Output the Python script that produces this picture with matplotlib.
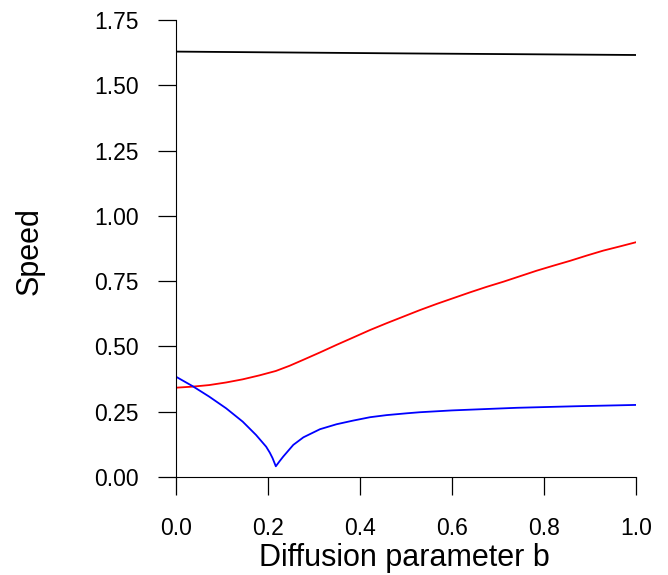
import matplotlib
matplotlib.use('Agg')
import numpy as np
from matplotlib import pyplot as plt

plt.rcParams['font.family'] = ['Liberation Sans', 'DejaVu Sans']

# values
b_black = [0.0, 0.5, 1.0]
speed_black = [1.629, 1.622, 1.616]

b_red = [0.0, 0.036, 0.072, 0.109, 0.145, 0.181, 0.217, 0.247, 0.277, 0.313,
         0.349, 0.385, 0.422, 0.458, 0.494, 0.530, 0.567, 0.603, 0.639,
         0.675, 0.712, 0.748, 0.784, 0.820, 0.857, 0.893, 0.929, 0.965, 1.0]
speed_red = [0.342, 0.346, 0.352, 0.362, 0.374, 0.389, 0.406, 0.426, 0.449,
             0.477, 0.506, 0.534, 0.563, 0.589, 0.614, 0.639, 0.663, 0.685,
             0.707, 0.728, 0.748, 0.769, 0.790, 0.809, 0.828, 0.848, 0.867,
             0.883, 0.899]

b_blue = [0.0, 0.036, 0.072, 0.109, 0.145, 0.174, 0.196, 0.204, 0.210,
          0.217, 0.225, 0.233, 0.255, 0.277, 0.313, 0.349, 0.385, 0.422,
          0.458, 0.502, 0.530, 0.600, 0.670, 0.741, 0.870, 1.0]
speed_blue = [0.384, 0.348, 0.308, 0.263, 0.212, 0.161, 0.116, 0.093, 0.072,
              0.041, 0.060, 0.078, 0.123, 0.152, 0.183, 0.202, 0.216, 0.229,
              0.237, 0.244, 0.248, 0.255, 0.260, 0.265, 0.271, 0.276]

xticks = [0.0, 0.2, 0.4, 0.6, 0.8, 1.0]
yticks = [0.0, 0.25, 0.5, 0.75, 1.0, 1.25, 1.5, 1.75]

fig = plt.figure(figsize=(6.68, 5.75), dpi=100)
ax = fig.add_axes([176 / 668, 98 / 575, 460 / 668, 457 / 575])

for xs, ys, c in [(b_black, speed_black, 'black'),
                  (b_red, speed_red, 'red'),
                  (b_blue, speed_blue, 'blue')]:
    ax.plot(xs, ys, color=c, lw=1.3, solid_joinstyle='round')

ax.set_xlim(0, 1)
ax.set_ylim(0, 1.75)
ax.set_xticks(xticks)
ax.set_xticklabels(['%.1f' % v for v in xticks])
ax.set_yticks(yticks)
ax.set_yticklabels(['%.2f' % v for v in yticks])

ax.spines['top'].set_visible(False)
ax.spines['right'].set_visible(False)
ax.tick_params(direction='out', length=13, width=0.9, labelsize=16.5)
ax.tick_params(axis='x', pad=16)
ax.tick_params(axis='y', pad=14)

ax.set_xlabel('Diffusion parameter b', fontsize=22)
ax.set_ylabel('Speed', fontsize=22)
ax.xaxis.set_label_coords(0.496, -0.145)
ax.yaxis.set_label_coords(-0.285, 0.495)

fig.savefig('out.png', dpi=100)
